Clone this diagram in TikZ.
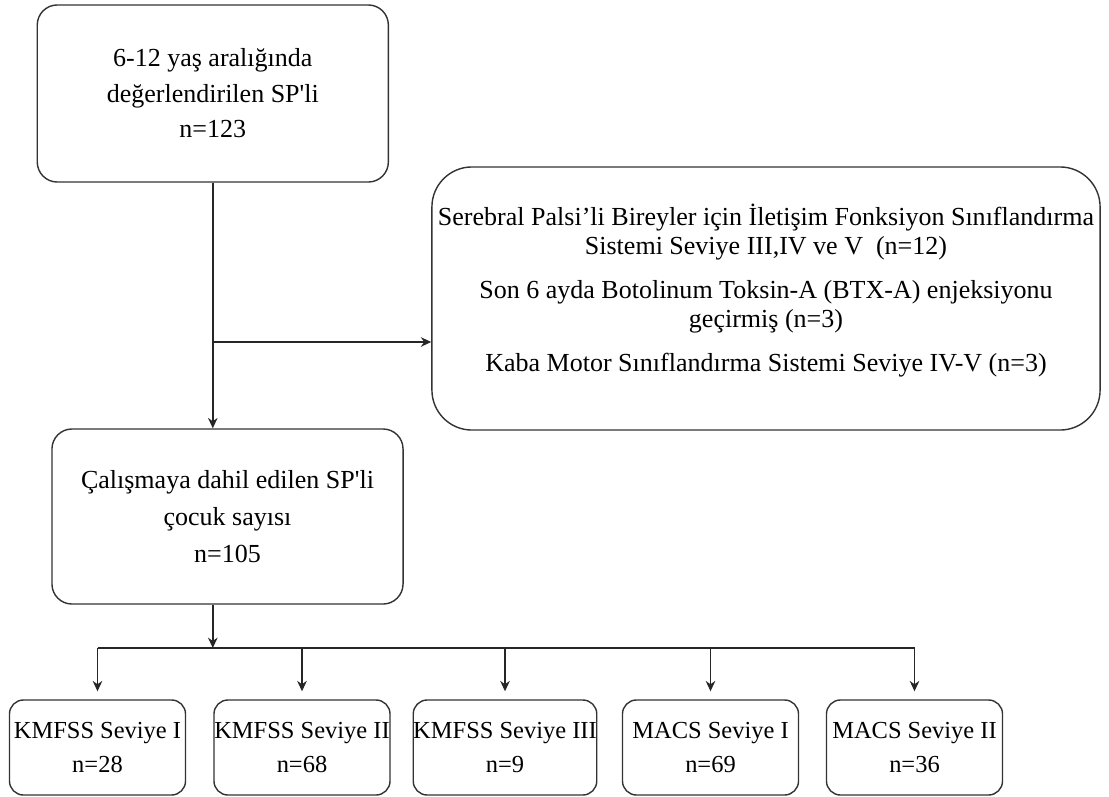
\documentclass[tikz,border=0pt]{standalone}
\usepackage{fontspec}
\setmainfont{Liberation Serif}
\usetikzlibrary{arrows.meta}

\begin{document}
\begin{tikzpicture}[x=0.025cm,y=-0.025cm,
            every node/.style={align=center},
            box/.style={draw=black!80,line width=1pt,rounded corners=0.5cm,inner sep=0pt},
            bigbox/.style={box,rounded corners=1cm},
            smallbox/.style={box,rounded corners=0.35cm,minimum width=4.4cm,minimum height=2.375cm,
                             font=\fontsize{17.4}{24}\selectfont},
            to/.style={-{Stealth[length=0.26cm,width=0.24cm]},line width=1pt,draw=black!85}]

            \useasboundingbox (0,0) rectangle (1109,796);

            \node[box,minimum width=8.775cm,minimum height=4.425cm,font=\fontsize{18.5}{25.3}\selectfont]
                (sample) at (212.8,93.5) {6-12 yaş aralığında\\değerlendirilen SP\textquotesingle li\\n=123};
            \node[bigbox,minimum width=16.7cm,minimum height=6.575cm,text depth=0.56cm,
                  font=\fontsize{18.5}{20.6}\selectfont]
                (excluded) at (766,298.5) {Serebral Palsi’li Bireyler için İletişim Fonksiyon Sınıflandırma\\
                Sistemi Seviye III,IV ve V\ \ (n=12)\\[10.7pt]
                Son 6 ayda Botolinum Toksin-A (BTX-A) enjeksiyonu\\geçirmiş (n=3)\\[10.7pt]
                Kaba Motor Sınıflandırma Sistemi Seviye IV-V (n=3)};
            \node[box,minimum width=8.775cm,minimum height=4.375cm,font=\fontsize{18.5}{26.3}\selectfont]
                (included) at (227.5,516.5) {Çalışmaya dahil edilen SP\textquotesingle li\\çocuk sayısı\\n=105};

            \foreach \name/\xc/\txt in {gmf1/97.5/{KMFSS Seviye I\\n=28},
                                        gmf2/302/{KMFSS Seviye II\\n=68},
                                        gmf3/505/{KMFSS Seviye III\\n=9},
                                        macs1/710.5/{MACS Seviye I\\n=69},
                                        macs2/914.5/{MACS Seviye II\\n=36}}
                \node[smallbox] (\name) at (\xc,747.5) {\txt};

            \coordinate (split) at (212.8,342);
            \coordinate (fork) at (212.8,648);

            \draw[to] (sample) -- (sample.south |- included.north);
            \draw[to] (split) -- (split -| excluded.west);
            \draw[to] (sample.south |- included.south) -- (fork);
            \draw[line width=1pt,draw=black!85] (gmf1.north |- fork) -- (macs2.north |- fork);
            \foreach \name in {gmf1,gmf2,gmf3,macs1,macs2}
                \draw[to,shorten >=0.2cm] (\name.north |- fork) -- (\name);
        \end{tikzpicture}
\end{document}
